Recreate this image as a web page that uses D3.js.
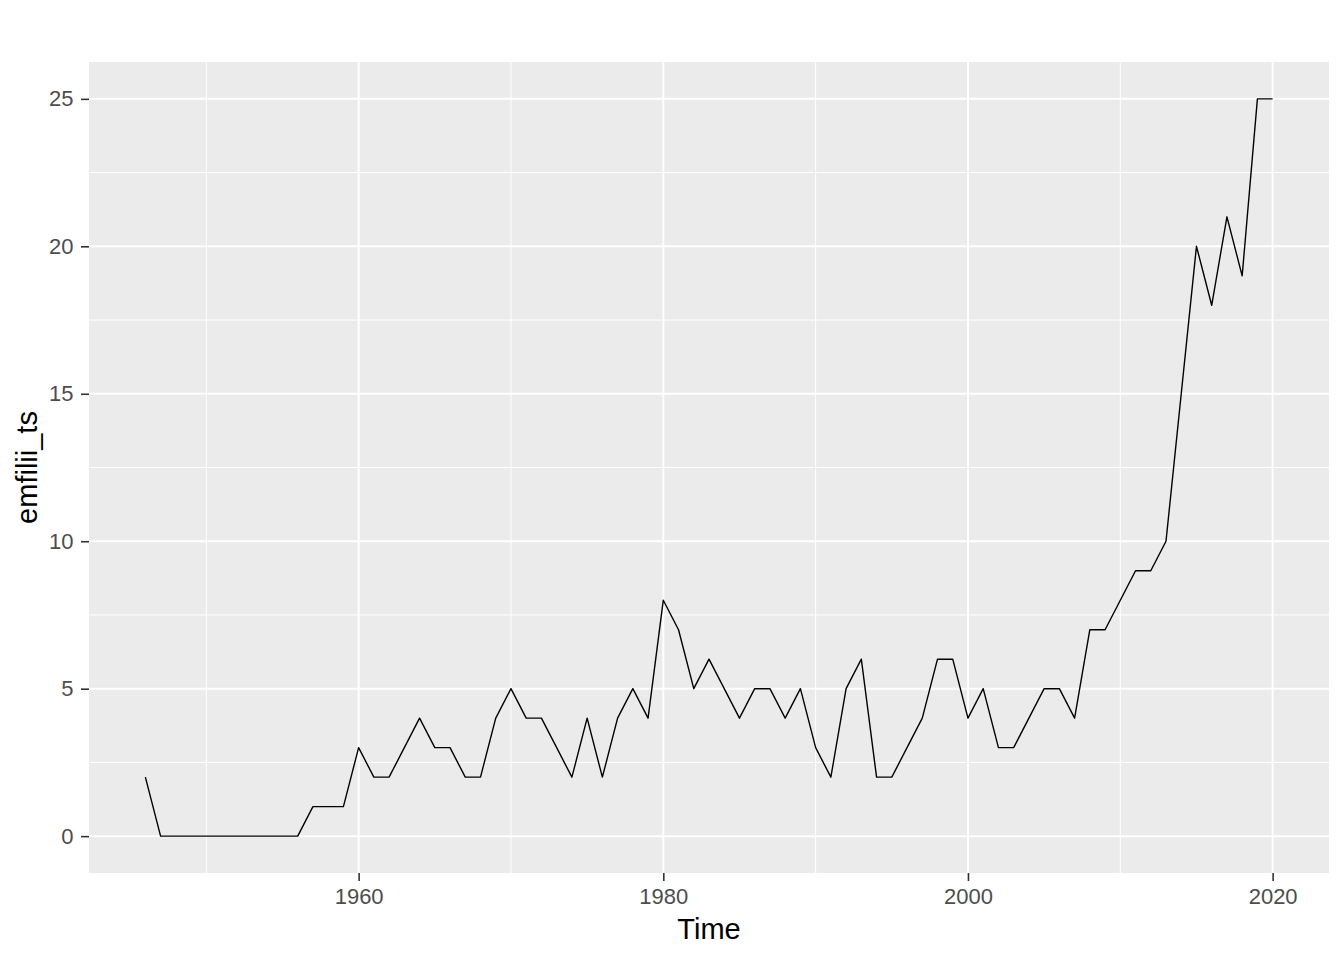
<!DOCTYPE html>
<html>
<head>
<meta charset="utf-8">
<script src="https://cdn.jsdelivr.net/npm/d3@7"></script>
<style>
	body { margin: 0; background: #ffffff; }
	svg { display: block; }
</style>
</head>
<body>
<svg id="chart" width="1344" height="960"></svg>
<script>
// yearly values
var years = d3.range(1946, 2021);
var emfilii = [
	2, 0, 0, 0, 0, 0, 0, 0, 0, 0, 0, 1, 1, 1,
	3, 2, 2, 3, 4, 3, 3, 2, 2, 4,
	5, 4, 4, 3, 2, 4, 2, 4, 5, 4,
	8, 7, 5, 6, 5, 4, 5, 5, 4, 5,
	3, 2, 5, 6, 2, 2, 3, 4, 6, 6,
	4, 5, 3, 3, 4, 5, 5, 4, 7, 7,
	8, 9, 9, 10, 15, 20, 18, 21, 19, 25, 25
];
var xTicks = [1960, 1980, 2000, 2020];
var xMinor = [1950, 1970, 1990, 2010];
var yTicks = [0, 5, 10, 15, 20, 25];
var yMinor = [2.5, 7.5, 12.5, 17.5, 22.5];

var data = years.map(function (y, i) {
	return { year: y, value: emfilii[i] };
});

var svg = d3.select('svg#chart');
var pLeft = 89, pRight = 1329, pTop = 62, pBottom = 873;
var font = 'Liberation Sans, Arial, sans-serif';

// ggplot style 5% expansion
var xr = d3.extent(years), xpad = (xr[1] - xr[0]) * 0.05;
var yr = [0, d3.max(emfilii)], ypad = (yr[1] - yr[0]) * 0.05;

var xScale = d3.scaleLinear().domain([xr[0] - xpad, xr[1] + xpad]).range([pLeft, pRight]);
var yScale = d3.scaleLinear().domain([yr[0] - ypad, yr[1] + ypad]).range([pBottom, pTop]);

svg.append('rect')
	.attr('x', pLeft)
	.attr('y', pTop)
	.attr('width', pRight - pLeft)
	.attr('height', pBottom - pTop)
	.style('fill', '#ebebeb');

var grid = svg.append('g');

grid.selectAll('line.ymin')
	.data(yMinor)
	.enter()
	.append('line')
	.attr('x1', pLeft).attr('x2', pRight)
	.attr('y1', function (d) { return yScale(d); })
	.attr('y2', function (d) { return yScale(d); })
	.style('stroke', '#ffffff')
	.style('stroke-width', 1);

grid.selectAll('line.xmin')
	.data(xMinor)
	.enter()
	.append('line')
	.attr('y1', pTop).attr('y2', pBottom)
	.attr('x1', function (d) { return xScale(d); })
	.attr('x2', function (d) { return xScale(d); })
	.style('stroke', '#ffffff')
	.style('stroke-width', 1);

grid.selectAll('line.ymaj')
	.data(yTicks)
	.enter()
	.append('line')
	.attr('x1', pLeft).attr('x2', pRight)
	.attr('y1', function (d) { return yScale(d); })
	.attr('y2', function (d) { return yScale(d); })
	.style('stroke', '#ffffff')
	.style('stroke-width', 2);

grid.selectAll('line.xmaj')
	.data(xTicks)
	.enter()
	.append('line')
	.attr('y1', pTop).attr('y2', pBottom)
	.attr('x1', function (d) { return xScale(d); })
	.attr('x2', function (d) { return xScale(d); })
	.style('stroke', '#ffffff')
	.style('stroke-width', 2);

var line = d3.line()
	.x(function (d) { return xScale(d.year); })
	.y(function (d) { return yScale(d.value); });

svg.append('path')
	.datum(data)
	.attr('d', line)
	.style('fill', 'none')
	.style('stroke', '#000000')
	.style('stroke-width', 1.4)
	.style('stroke-linejoin', 'round');

// axes
var xAxis = d3.axisBottom(xScale).tickValues(xTicks).tickFormat(d3.format('d')).tickSize(8).tickPadding(7);
var yAxis = d3.axisLeft(yScale).tickValues(yTicks).tickSize(8).tickPadding(7.5);

var gx = svg.append('g')
	.attr('transform', 'translate(0,' + pBottom + ')')
	.call(xAxis);

var gy = svg.append('g')
	.attr('transform', 'translate(' + pLeft + ',0)')
	.call(yAxis);

[gx, gy].forEach(function (g) {
	g.select('.domain').remove();
	g.selectAll('.tick line').style('stroke', '#333333').style('stroke-width', 1.6);
	g.selectAll('.tick text')
		.style('fill', '#4d4d4d')
		.style('font-family', font)
		.style('font-size', '22px');
});

svg.append('text')
	.text('Time')
	.attr('x', (pLeft + pRight) / 2)
	.attr('y', 939)
	.style('text-anchor', 'middle')
	.style('font-family', font)
	.style('font-size', '29px')
	.style('fill', '#000000');

svg.append('text')
	.text('emfilii_ts')
	.attr('transform', 'translate(37,' + ((pTop + pBottom) / 2) + ') rotate(-90)')
	.style('text-anchor', 'middle')
	.style('font-family', font)
	.style('font-size', '29px')
	.style('fill', '#000000');
</script>
</body>
</html>
